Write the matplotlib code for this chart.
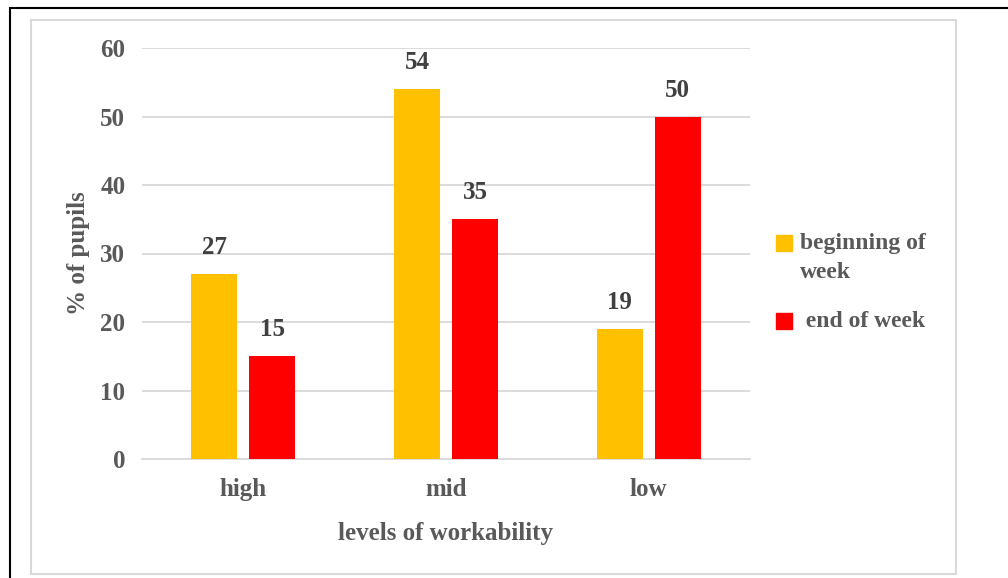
import matplotlib
matplotlib.use('Agg')
import matplotlib.pyplot as plt
import matplotlib.patches as mpatches
import numpy as np

categories = ['high', 'mid', 'low']
begin_week = [27, 54, 19]
end_week = [15, 35, 50]
series_names = ['beginning of\nweek', ' end of week']
yticks = [0, 10, 20, 30, 40, 50, 60]

txt = '#595959'
plt.rcParams['font.family'] = ['Liberation Serif', 'DejaVu Serif']
plt.rcParams['font.weight'] = 'bold'

fig = plt.figure(figsize=(10.08, 5.78), dpi=100)
W, H = 1008, 578
ax = fig.add_axes([142 / W, 1 - 459 / H, 608 / W, (459 - 48) / H])

x = np.arange(len(categories))
w = 0.227
off = 0.143
b1 = ax.bar(x - off, begin_week, w, color='#FFC000', zorder=3)
b2 = ax.bar(x + off, end_week, w, color='#FF0000', zorder=3)
for bars, vals in ((b1, begin_week), (b2, end_week)):
    for r, v in zip(bars, vals):
        ax.annotate(str(v), (r.get_x() + r.get_width() / 2, v), xytext=(0, 19),
                    textcoords='offset points', ha='center', va='center',
                    fontsize=18, fontweight='bold', color='#404040')

ax.set_xlim(-0.5, 2.5)
ax.set_ylim(0, 60)
ax.set_yticks(yticks)
ax.set_xticks(x)
ax.set_xticklabels(categories)
ax.yaxis.grid(True, color='#D9D9D9', linewidth=1.3, zorder=0)
for s in ['top', 'right', 'left']:
    ax.spines[s].set_visible(False)
ax.spines['bottom'].set_color('#D9D9D9')
ax.spines['bottom'].set_linewidth(1.3)
ax.tick_params(length=0, labelsize=18, labelcolor=txt)
ax.tick_params(axis='y', pad=12)
ax.tick_params(axis='x', pad=14)
for lab in ax.get_xticklabels() + ax.get_yticklabels():
    lab.set_fontweight('bold')
ax.set_xlabel('levels of workability', fontsize=18, fontweight='bold', color=txt, labelpad=15)
ax.set_ylabel('% of pupils', fontsize=18, fontweight='bold', color=txt, labelpad=7)

# borders
fig.patches.append(mpatches.Rectangle((31 / W, 1 - 574 / H), (956 - 31) / W, (574 - 20) / H,
                                      transform=fig.transFigure, fill=False,
                                      edgecolor='#D9D9D9', linewidth=1.5))
fig.patches.append(mpatches.Rectangle((9.5 / W, -0.05), 1.1, 1 - 8.5 / H + 0.05,
                                      transform=fig.transFigure, fill=False,
                                      edgecolor='black', linewidth=1.5))

# legend
colors = ['#FFC000', '#FF0000']
ys = [243, 321]
for c, name, yy in zip(colors, series_names, ys):
    fig.patches.append(mpatches.Rectangle((776 / W, 1 - (yy + 8) / H), 16 / W, 16 / H,
                                          transform=fig.transFigure, color=c))
    fig.text(800 / W, 1 - (yy - 10) / H, name, fontsize=17, fontweight='bold',
             color=txt, va='top', ha='left', linespacing=1.5)

fig.savefig('out.png', dpi=100)
